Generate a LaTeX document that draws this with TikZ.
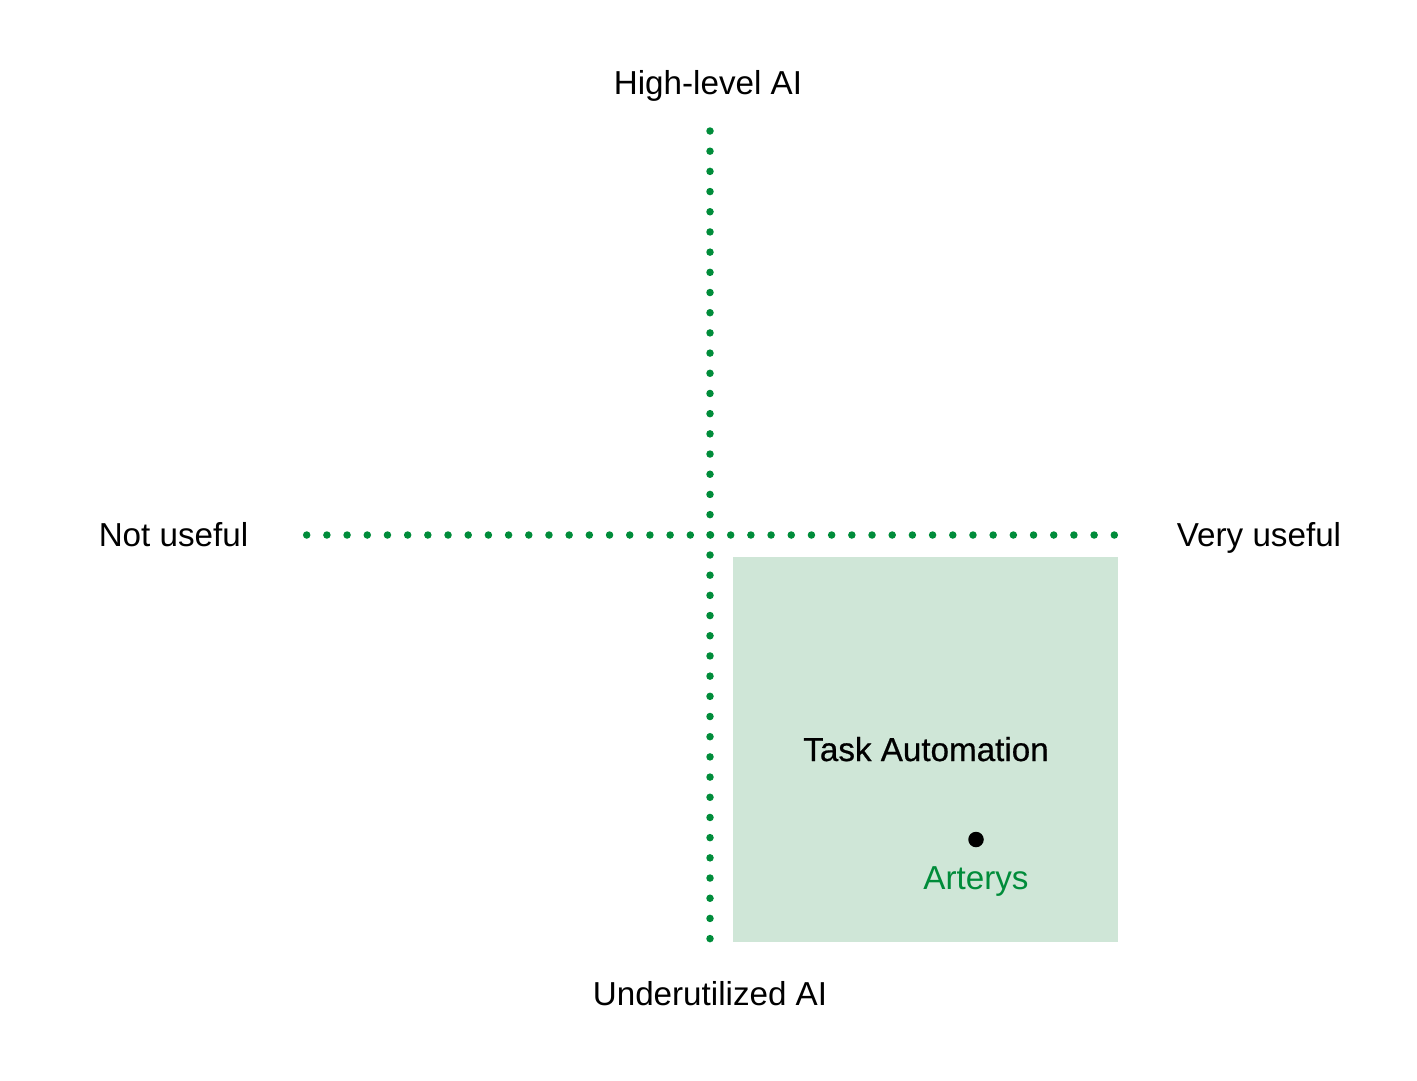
\documentclass[tikz,border=0pt]{standalone}
\usepackage{fontspec}
\setmainfont{Liberation Sans}
\definecolor{axisgreen}{HTML}{008C3A}
\definecolor{boxgreen}{HTML}{CFE6D7}
\begin{document}
\begin{tikzpicture}[x=1pt,y=-1pt,
  lbl/.style={font=\fontsize{33.2}{38}\selectfont, anchor=base, inner sep=0pt},
  axisdots/.style={draw=axisgreen, line width=7.5pt, line cap=round, dash pattern=on 0pt off 20.19pt},
  quadbox/.style={fill=boxgreen, draw=none}]
\useasboundingbox (0,0) rectangle (1417,1080);
% quadrant box
\path[quadbox] (733,557) rectangle (1118,941.5);
% axes
\coordinate (vtop) at (710,131);
\coordinate (vbot) at (710,938.7);
\coordinate (hleft) at (306.7,535);
\coordinate (hright) at (1114.3,535);
\draw[axisdots] (vtop) -- (vbot);
\draw[axisdots] (hleft) -- (hright);
% axis labels
\node[lbl] (hi) at (708,94) {High-level AI};
\node[lbl] (lo) at (710,1005) {Underutilized AI};
\node[lbl] (nu) at (173.5,546) {Not useful};
\node[lbl] (vu) at (1259,546) {Very useful};
% quadrant contents
\node[lbl, font=\fontsize{33.2}{38}\selectfont\addfontfeatures{FakeBold=0.6}] (ta) at (926,761) {Task Automation};
\node[circle, fill=black, minimum size=15.5pt, inner sep=0pt] (pt) at (976,839.5) {};
\node[lbl, text=axisgreen] (art) at (976,889.3) {Arterys};
\end{tikzpicture}
\end{document}
